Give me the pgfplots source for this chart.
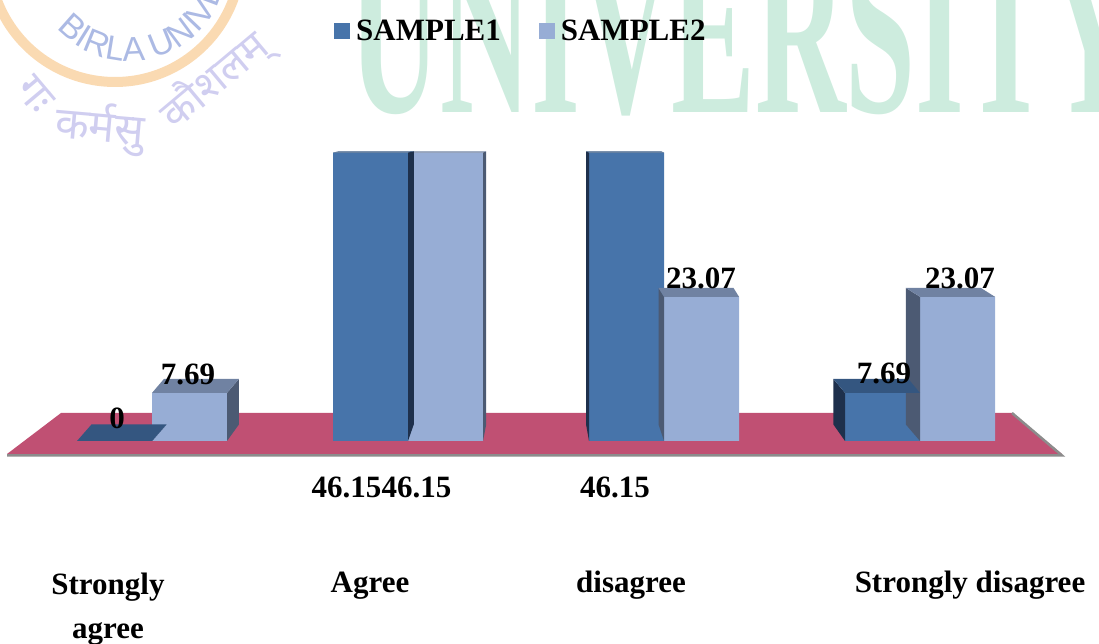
\documentclass[border=0pt]{standalone}
\usepackage{fontspec}
\setmainfont{Liberation Serif}
\newfontfamily\devfont[Script=Devanagari]{Noto Sans}
\newfontfamily\logofont{Liberation Sans}
\usepackage{pgfplots}
\usepackage{pgfplotstable}
\pgfplotsset{compat=1.18}
\usetikzlibrary{decorations.text}

\definecolor{s1front}{RGB}{71,116,170}
\definecolor{s2front}{RGB}{151,173,213}
\definecolor{s1top}{RGB}{52,86,128}
\definecolor{s1side}{RGB}{30,48,76}
\definecolor{s2top}{RGB}{112,130,162}
\definecolor{s2side}{RGB}{76,90,115}
\definecolor{floorpink}{RGB}{192,80,115}
\definecolor{flooredge}{RGB}{140,140,140}
\definecolor{wmgreen}{RGB}{205,236,222}
\definecolor{logoorange}{RGB}{250,218,178}
\definecolor{logoblue}{RGB}{172,186,228}
\definecolor{logolav}{RGB}{208,206,240}

\pgfplotstableread{
x s1 s2
0 0 7.69
1 46.15 46.15
2 46.15 23.07
3 7.69 23.07
}\datatable

% 3D faces (top and side) of a bar, drawn at the data point (top of bar)
\newcommand\drawcube[3]{%
  \pgfmathsetmacro\cpx{152+256*\rx+#1}%
  \pgfmathsetmacro\cdx{-0.034*(\cpx-540)}%
  \pgfmathsetmacro\cdy{16.5-0.33*\ry}%
  \pgfmathsetmacro\cbot{-\ry*6.25}%
  \pgfmathsetmacro\cbotb{-\ry*6.25+16.5}%
  \pgfmathsetmacro\xl{#1-37.5}%
  \pgfmathsetmacro\xr{#1+37.5}%
  \pgfmathsetmacro\xe{\cdx>0 ? \xr : \xl}%
  \pgfmathsetmacro\xeb{\xe+\cdx}%
  \pgfmathsetmacro\xlb{\xl+\cdx}%
  \pgfmathsetmacro\xrb{\xr+\cdx}%
  \pgfpathmoveto{\pgfpoint{\xe pt}{0pt}}%
  \pgfpathlineto{\pgfpoint{\xeb pt}{\cdy pt}}%
  \pgfpathlineto{\pgfpoint{\xeb pt}{\cbotb pt}}%
  \pgfpathlineto{\pgfpoint{\xe pt}{\cbot pt}}%
  \pgfpathclose
  \pgfsetfillcolor{#3}\pgfusepath{fill}%
  \pgfpathmoveto{\pgfpoint{\xl pt}{0pt}}%
  \pgfpathlineto{\pgfpoint{\xr pt}{0pt}}%
  \pgfpathlineto{\pgfpoint{\xrb pt}{\cdy pt}}%
  \pgfpathlineto{\pgfpoint{\xlb pt}{\cdy pt}}%
  \pgfpathclose
  \pgfsetfillcolor{#2}\pgfusepath{fill}%
}
\pgfdeclareplotmark{cubeA}{\drawcube{-37.5}{s1top}{s1side}}
\pgfdeclareplotmark{cubeB}{\drawcube{37.5}{s2top}{s2side}}

\newcommand\lblfont{\rmfamily\fontsize{31}{36}\selectfont\bfseries}

\begin{document}
\begin{tikzpicture}
\begin{axis}[
  name=ax, set layers,
  x=256pt, y=6.25pt,
  xmin=-0.59375, xmax=3.69922,
  ymin=-32.48, ymax=70.56,
  hide axis, clip=false,
  legend style={at={(axis cs:0.7109,65.6)}, anchor=west, draw=none, fill=none,
    legend columns=2, font=\lblfont,
    nodes={inner sep=0pt},
    /tikz/every odd column/.append style={column sep=6pt},
    /tikz/every even column/.append style={column sep=38pt},
    inner sep=0pt, legend cell align=left},
]
% watermark
\node[anchor=base west, inner sep=0pt, text=wmgreen, xscale=0.524,
      font=\rmfamily\fontsize{240}{240}\selectfont\bfseries] at (axis cs:0.773,52.48) {UNIVERSITY};
% logo
\draw[logoorange, line width=10pt] (axis cs:-0.6367,77.6) arc[start angle=180, end angle=360, radius=126pt];
\begin{scope}
\path[decorate, decoration={text along path, text={|\logofont\fontsize{34}{34}\selectfont\color{logoblue}|BIRLA UNIVERSITY}}]
  (axis cs:-0.3730,66.0) arc[start angle=222, end angle=400, radius=98pt];
\end{scope}
\node[text=logolav, rotate=-50, font=\devfont\fontsize{44}{44}\selectfont] at (axis cs:-0.457,55.36) {गः};
\node[text=logolav, rotate=-5, font=\devfont\fontsize{44}{44}\selectfont] at (axis cs:-0.2031,50.08) {कर्मसु};
\node[text=logolav, rotate=40, font=\devfont\fontsize{42}{42}\selectfont] at (axis cs:0.2461,57.6) {कौशलम्};
% floor
\fill[floorpink] (axis cs:-0.5664,-2.08) -- (axis cs:3.5547,-2.08) -- (axis cs:3.3594,4.48) -- (axis cs:-0.3555,4.48) -- cycle;
\draw[flooredge, line width=2.5pt] (axis cs:3.3594,4.48) -- (axis cs:3.5547,-2.32) -- (axis cs:-0.5664,-2.32);
% 3D faces
\addplot[forget plot, only marks, mark=cubeB,
  visualization depends on={rawx \as \rx},
  visualization depends on={rawy \as \ry}] table[x=x, y=s2] {\datatable};
\addplot[forget plot, only marks, mark=cubeA,
  visualization depends on={rawx \as \rx},
  visualization depends on={rawy \as \ry}] table[x=x, y=s1] {\datatable};
% front faces
\addplot[ybar, bar width=75pt, bar shift=-37.5pt, fill=s1front, draw=none,
  legend image code/.code={\fill[s1front] (0pt,-8pt) rectangle (16pt,8pt);}]
  table[x=x, y=s1] {\datatable};
\addlegendentry{SAMPLE1}
\addplot[ybar, bar width=75pt, bar shift=37.5pt, fill=s2front, draw=none,
  legend image code/.code={\fill[s2front] (0pt,-8pt) rectangle (16pt,8pt);}]
  table[x=x, y=s2] {\datatable};
\addlegendentry{SAMPLE2}
% value labels
\begin{pgfonlayer}{axis foreground}
\begin{scope}[every node/.style={font=\lblfont, inner sep=0pt}]
\node at (axis cs:-0.1367,3.68) {0};
\node at (axis cs:0.1406,10.72) {7.69};
\node at (axis cs:0.7598,-7.36) {46.15};
\node at (axis cs:1.0332,-7.36) {46.15};
\node at (axis cs:1.8086,-7.36) {46.15};
\node at (axis cs:2.1445,26.08) {23.07};
\node at (axis cs:2.8594,10.88) {7.69};
\node at (axis cs:3.1563,26.08) {23.07};
% category labels
\node[anchor=north, align=center, font=\rmfamily\fontsize{31}{44}\selectfont\bfseries] at (axis cs:-0.1719,-21.12) {Strongly\\agree};
\node[anchor=base] at (axis cs:0.8516,-24.32) {Agree};
\node[anchor=base] at (axis cs:1.8711,-24.32) {disagree};
\node[anchor=base] at (axis cs:3.1953,-24.32) {Strongly disagree};
\end{scope}
\end{pgfonlayer}
\end{axis}
\pgfresetboundingbox
\path[use as bounding box] (ax.south west) rectangle (ax.north east);
\end{tikzpicture}
\end{document}
